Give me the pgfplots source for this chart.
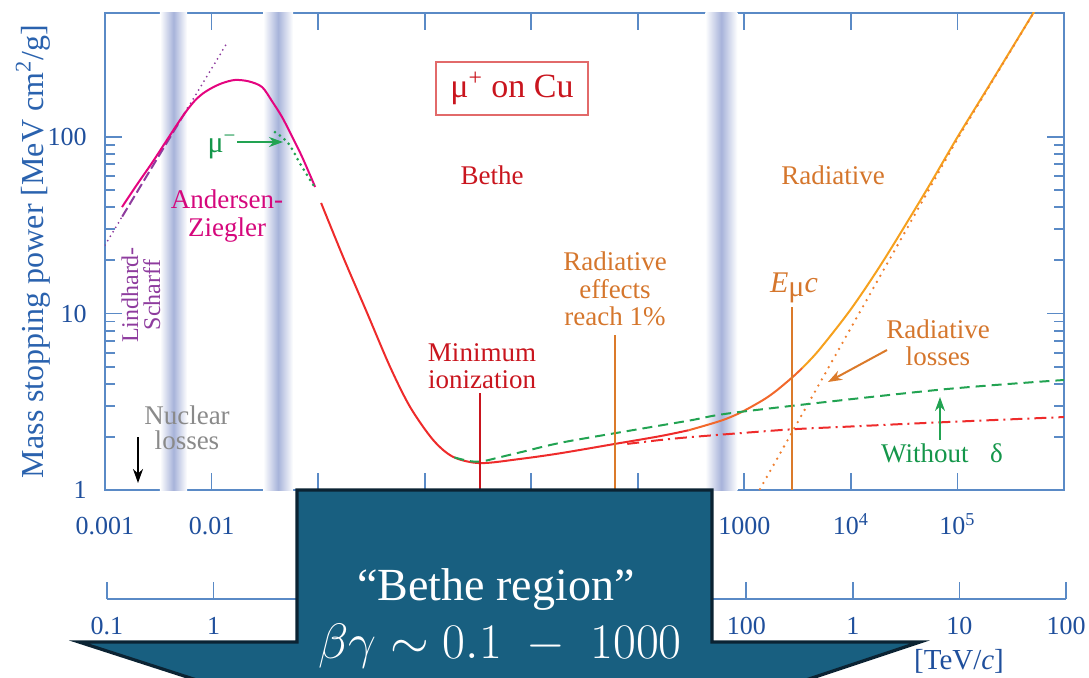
\documentclass[border=0pt]{standalone}
\usepackage{pgfplots}
\pgfplotsset{compat=1.18}
\usepackage{fontspec}
\setmainfont{Liberation Serif}
\usetikzlibrary{arrows.meta}

\definecolor{axblue}{HTML}{5A8AC6}
\definecolor{tlblue}{HTML}{1F4F9C}
\definecolor{ylblue}{HTML}{2A62AE}
\definecolor{bandblue}{HTML}{A7B3DA}
\definecolor{cred}{HTML}{EE2B2B}
\definecolor{tred}{HTML}{C9151E}
\definecolor{boxred}{HTML}{E26A6A}
\definecolor{cmag}{HTML}{E4047F}
\definecolor{tmag}{HTML}{D5077C}
\definecolor{cpur}{HTML}{8E3C9E}
\definecolor{cgreen}{HTML}{22A352}
\definecolor{tgreen}{HTML}{14964A}
\definecolor{corred}{HTML}{F2682B}
\definecolor{corange}{HTML}{F6A11E}
\definecolor{cordot}{HTML}{EF7F2F}
\definecolor{torange}{HTML}{D5762C}
\definecolor{vorange}{HTML}{DB7A2A}
\definecolor{tgray}{HTML}{8A8A8A}
\definecolor{calfill}{HTML}{185F80}
\definecolor{caldark}{HTML}{0B2333}

\newcommand{\labfont}{\fontsize{13.5}{13.75}\selectfont}

\begin{document}
\begin{tikzpicture}
\begin{axis}[
  at={(0pt,0pt)}, anchor=south west,
  scale only axis, width=479.5pt, height=238.5pt,
  xmode=log, ymode=log,
  xmin=1e-3, xmax=1e6, ymin=1, ymax=504,
  xtick={1e-3,1e-2,1e-1,1,10,100,1000,1e4,1e5},
  xticklabels={0.001,0.01,{},{},{},{},1000,10\textsuperscript{4},10\textsuperscript{5}},
  ytick={1,10,100}, yticklabels={1,10,100},
  xminorticks=false,
  tick align=inside,
  major tick length=8.5pt, minor tick length=5pt,
  axis line style={axblue, line width=1pt},
  tick style={axblue, line width=0.9pt},
  ticklabel style={font=\fontsize{13}{13}\selectfont, text=tlblue, inner sep=0pt},
  xticklabel style={anchor=base, yshift=-22pt},
  yticklabel style={anchor=east, xshift=-9pt},
  ylabel={Mass stopping power [MeV cm\textsuperscript{2}/g]},
  ylabel style={at={(axis description cs:-0.0751,0.5)}, anchor=center, font=\fontsize{16}{16}\selectfont, text=ylblue},
]
% shaded bands
\shade[left color=white, right color=white, middle color=bandblue] (axis cs:0.00328,1) rectangle (axis cs:0.00589,504);
\shade[left color=white, right color=white, middle color=bandblue] (axis cs:0.0305,1) rectangle (axis cs:0.0582,504);
\shade[left color=white, right color=white, middle color=bandblue] (axis cs:430,1) rectangle (axis cs:859,504);

% Lindhard-Scharff
\addplot[cpur, line width=1pt, line cap=round, dash pattern=on 0pt off 2.6pt] coordinates {(0.001,24.4) (0.00145,35.4)};
\addplot[cpur, line width=1pt, dash pattern=on 5pt off 2pt] coordinates {(0.00145,35.4) (0.006,146.4)};
\addplot[cpur, line width=1pt, line cap=round, dash pattern=on 0pt off 2.6pt] coordinates {(0.006,146.4) (0.014,341.6)};

% Andersen-Ziegler
\addplot[cmag, line width=1pt, smooth] coordinates {
(0.001445,40.1) (0.001995,53.7) (0.00276,71.3) (0.00398,100) (0.00501,123.6) (0.00603,144.5)
(0.00708,162.2) (0.00832,176.6) (0.01,189.2) (0.01259,201.8) (0.0166,210.4) (0.0224,206.5)
(0.0298,191.9) (0.0372,158.5) (0.0459,129.7) (0.0562,102.3) (0.0708,77.1) (0.0938,52.1)};

% mu minus
\addplot[cgreen, line width=1.5pt, line cap=round, dash pattern=on 0pt off 3pt, smooth] coordinates {
(0.0394,106.7) (0.0522,92.5) (0.0708,67.6) (0.0938,51.4)};

% Bethe / total
\addplot[cred, line width=1pt, smooth] coordinates {
(0.1067,42.3) (0.1718,20.9) (0.2884,10.07) (0.474,4.98) (0.731,2.95) (1.202,1.92)
(1.853,1.54) (3.32,1.42) (7.9,1.50) (18.7,1.615) (61.5,1.826) (162.6,2.02) (300,2.18)};
\addplot[corred, line width=1pt, smooth] coordinates {
(300,2.18) (600,2.466) (916,2.741) (1500,3.235) (2000,3.655) (2884,4.40) (3500,4.916)};
\addplot[corange, line width=1pt, smooth] coordinates {
(3500,4.916) (5000,6.19) (10000,10.575) (20000,19.73) (50000,48.76) (100000,99.74)
(200000,197.1) (400000,391.7) (600000,586.4)};

% radiative losses (dotted)
\addplot[cordot, line width=1.3pt, line cap=round, dash pattern=on 0pt off 3.5pt, smooth] coordinates {
(1300,0.934) (2000,1.48) (2884,2.19) (5000,3.946) (10000,8.285) (20000,17.39) (50000,46.36)
(100000,97.3) (200000,194.6) (400000,389.2) (600000,583.8)};

% without delta (dashed green)
\addplot[cgreen, line width=1pt, dash pattern=on 5pt off 3pt, smooth] coordinates {
(1.9,1.53) (2.6,1.46) (3.4,1.45) (5,1.53) (7.9,1.635) (18.7,1.85) (61.5,2.10) (300,2.47)
(916,2.77) (64900,3.69) (1000000,4.20)};

% ionization only (dash-dot red)
\addplot[cred, line width=1pt, dash pattern=on 6pt off 2.5pt on 1pt off 2.5pt, smooth] coordinates {
(79.7,1.825) (162.6,1.92) (300,1.99) (916,2.10) (2884,2.21) (10000,2.29) (52300,2.40) (1000000,2.59)};

% vertical markers
\addplot[tred, line width=1pt] coordinates {(3.32,1) (3.32,3.54)};
\addplot[vorange, line width=1pt] coordinates {(61.5,1) (61.5,7.55)};
\addplot[vorange, line width=1pt] coordinates {(2825,1) (2825,10.9)};
\end{axis}

% muon momentum axis
\begin{axis}[
  at={(1pt,-54.5pt)}, anchor=south west,
  scale only axis, width=479.5pt, height=10pt,
  xmode=log, xmin=0.1, xmax=1e8, ymin=0, ymax=1,
  axis x line*=bottom, axis y line=none,
  xtick={0.1,1,10,100,1000,1e4,1e5,1e6,1e7,1e8},
  xticklabels={0.1,1,{},{},{},{},100,1,10,100},
  xminorticks=false, tick align=inside, major tick length=8.5pt,
  axis line style={axblue, line width=1pt},
  tick style={axblue, line width=0.9pt},
  ticklabel style={font=\fontsize{13}{13}\selectfont, text=tlblue, inner sep=0pt},
  xticklabel style={anchor=base, yshift=-17.8pt},
]
\addplot[draw=none] coordinates {(1,0.5)};
\end{axis}

\begin{scope}[shift={(-52.5pt,245pt)}, x=0.5pt, y=-0.5pt]
\node[text=tred, font=\labfont] at (492,175) {Bethe};
\node[text=torange, font=\labfont] at (833,175) {Radiative};
\node[draw=boxred, line width=0.8pt, text=tred, font=\fontsize{17}{17}\selectfont, minimum width=76pt, minimum height=26.5pt, inner sep=0pt] at (512,88.5) {μ\textsuperscript{+} on Cu};
\node[text=torange, font=\labfont, align=center] at (615,289) {Radiative\\effects\\reach 1\%};
\node[text=tred, font=\labfont, align=center] at (482,366) {Minimum\\ionization};
\node[text=torange, font=\fontsize{15}{15}\selectfont] at (794,288) {\textit{E}\raisebox{-0.25ex}{μ}\textit{c}};
\node[text=torange, font=\labfont, align=center] at (938,343) {Radiative\\losses};
\node[text=tgreen, font=\labfont] at (942,453) {Without\hspace{0.8em}δ};
\node[text=tmag, font=\labfont, align=center] at (227,216) {Andersen-\\Ziegler};
\node[text=cpur, rotate=90, font=\fontsize{12}{11}\selectfont, align=center] at (141,295) {Lindhard-\\Scharff};
\node[text=tgray, font=\fontsize{13.5}{12.5}\selectfont, align=center] at (187,428) {Nuclear\\losses};
\node[text=tgreen, font=\fontsize{15}{15}\selectfont] at (222,147) {μ\textsuperscript{−}};
% arrows
\draw[-{Stealth[length=7pt,width=5pt]}, line width=1pt, black] (138,437) -- (138,483);
\draw[-{Stealth[length=7pt,width=5pt]}, line width=1pt, cgreen] (237,142) -- (283,142);
\draw[-{Stealth[length=7pt,width=5pt]}, line width=1pt, vorange] (887,350) -- (828,382);
\draw[-{Stealth[length=7pt,width=5pt]}, line width=1pt, cgreen] (940,440) -- (940,397);
% callout
\filldraw[fill=calfill, draw=caldark, line width=1.6pt, line join=miter]
  (297,490) -- (712,490) -- (712,642) -- (920,642) -- (506,780) -- (79,642) -- (297,642) -- cycle;
\node[text=white, font=\fontsize{23}{23}\selectfont, anchor=base] at (496,600) {“Bethe region”};
\node[text=white, font=\fontsize{23}{23}\selectfont, anchor=base] at (500,658) {$\beta\gamma\sim 0.1\;-\;1000$};
\node[text=tlblue, font=\fontsize{14.5}{14.5}\selectfont] at (959,661) {[TeV/\textit{c}]};
\end{scope}
\pgfresetboundingbox
\path[use as bounding box] (-52.5pt,245pt) rectangle (492pt,-93.5pt);
\end{tikzpicture}
\end{document}
